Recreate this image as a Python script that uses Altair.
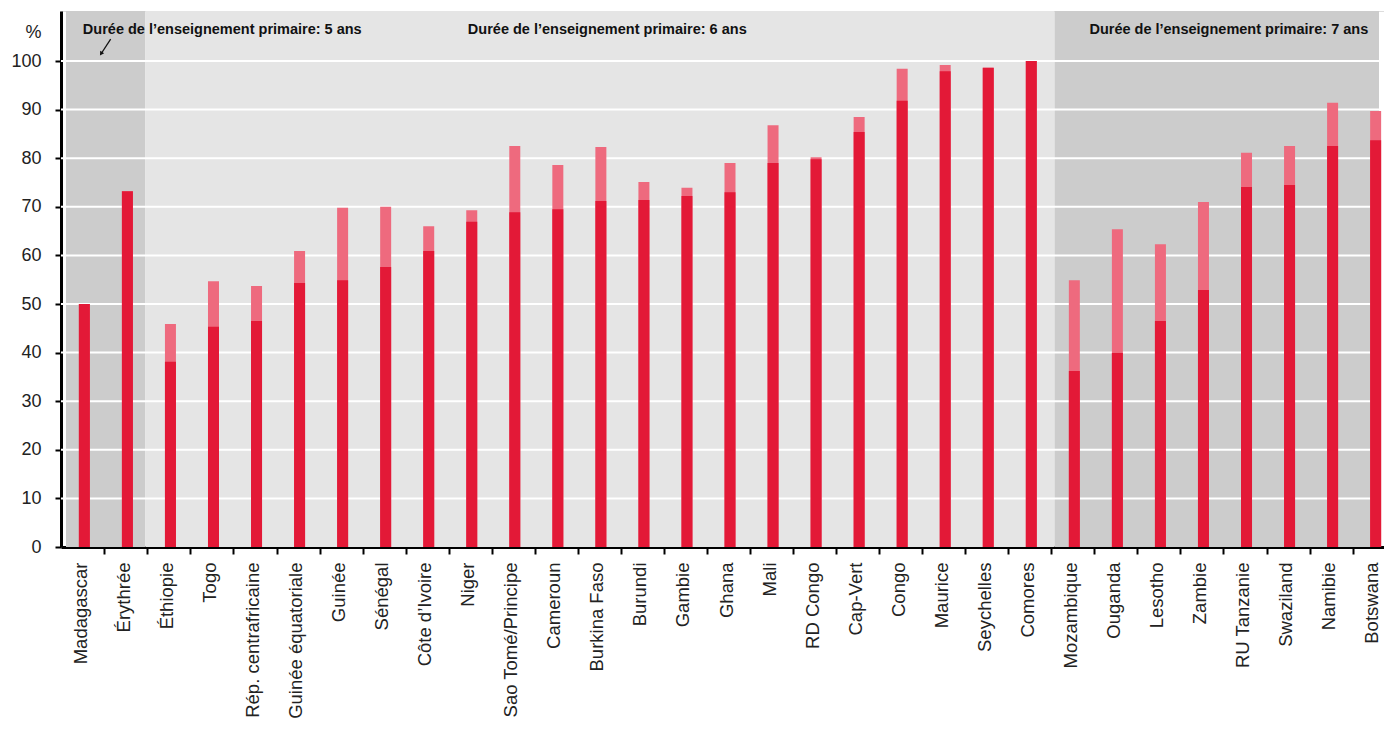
import json
import altair as alt
import pandas as pd

# ---------------- data ----------------
countries = [
    "Madagascar", "Érythrée", "Éthiopie", "Togo", "Rép. centrafricaine",
    "Guinée équatoriale", "Guinée", "Sénégal", "Côte d’Ivoire", "Niger",
    "Sao Tomé/Principe", "Cameroun", "Burkina Faso", "Burundi", "Gambie",
    "Ghana", "Mali", "RD Congo", "Cap-Vert", "Congo", "Maurice", "Seychelles",
    "Comores", "Mozambique", "Ouganda", "Lesotho", "Zambie", "RU Tanzanie",
    "Swaziland", "Namibie", "Botswana",
]
dark_values = [
    50.0, 73.2, 38.1, 45.3, 46.5, 54.3, 54.9, 57.6, 60.9, 66.9,
    68.9, 69.5, 71.2, 71.4, 72.2, 73.0, 79.0, 79.8, 85.4, 91.8,
    97.9, 98.6, 100.0, 36.2, 39.9, 46.5, 52.9, 74.1, 74.5, 82.5, 83.7,
]
total_values = [
    50.0, 73.2, 45.9, 54.7, 53.7, 60.9, 69.8, 70.0, 66.0, 69.3,
    82.5, 78.6, 82.3, 75.1, 73.9, 79.0, 86.8, 80.2, 88.5, 98.4,
    99.2, 98.6, 100.0, 54.9, 65.4, 62.3, 71.0, 81.1, 82.5, 91.4, 89.7,
]

X_DOMAIN = [-0.4266, 30.078]
Y_DOMAIN = [0, 110.29]

# shaded groups (in category-index units)
region_start = [X_DOMAIN[0], 1.418, 22.54]
region_end = [1.418, 22.54, X_DOMAIN[1]]
region_fill = ["#cccccc", "#e5e5e5", "#cccccc"]

header_text = [
    "Durée de l’enseignement primaire: 5 ans",
    "Durée de l’enseignement primaire: 6 ans",
    "Durée de l’enseignement primaire: 7 ans",
]
header_x = [-0.035, 8.91, 23.35]
header_y = [106.4, 106.4, 106.4]

grid_values = [10, 20, 30, 40, 50, 60, 70, 80, 90, 100]
y_ticks = [0, 10, 20, 30, 40, 50, 60, 70, 80, 90, 100]

arrow_x = [0.611]
arrow_x2 = [0.397]
arrow_y = [104.5]
arrow_y2 = [101.6]

FONT = "Liberation Sans"
DARK = "#e31937"
LIGHT = "#ee6a7e"

# ---------------- tables ----------------
bars = pd.DataFrame({
    "i": list(range(len(countries))),
    "pays": countries,
    "dark": dark_values,
    "total": total_values,
})
regions = pd.DataFrame({
    "start": region_start,
    "end": region_end,
    "fill": region_fill,
    "lo": [Y_DOMAIN[0]] * 3,
    "hi": [Y_DOMAIN[1]] * 3,
})
headers = pd.DataFrame({"x": header_x, "y": header_y, "t": header_text})
grid = pd.DataFrame({"v": grid_values})
arrow = pd.DataFrame({"x": arrow_x, "x2": arrow_x2, "y": arrow_y, "y2": arrow_y2})

xscale = alt.Scale(domain=X_DOMAIN, nice=False, zero=False)
yscale = alt.Scale(domain=Y_DOMAIN, nice=False, zero=True)

label_expr = json.dumps(countries, ensure_ascii=False) + "[datum.value]"

x_axis = alt.Axis(
    values=list(range(len(countries))),
    labelExpr=label_expr,
    labelAngle=270,
    labelFontSize=18.5,
    labelColor="#222222",
    labelPadding=8,
    labelOverlap=False,
    labelFlush=False,
    labelBound=False,
    tickOffset=20,
    labelOffset=-24,
    tickSize=7,
    tickWidth=2,
    tickColor="#000000",
    domainColor="#000000",
    domainWidth=3,
    grid=False,
    title=None,
)
y_axis = alt.Axis(
    values=y_ticks,
    labelFontSize=18,
    labelColor="#222222",
    labelPadding=14,
    tickSize=6,
    tickWidth=2,
    tickColor="#000000",
    domainColor="#000000",
    domainWidth=3,
    grid=False,
    title="%",
    titleAngle=0,
    titleX=-28,
    titleY=21,
    titleAlign="center",
    titleBaseline="middle",
    titleFontSize=18,
    titleFontWeight="normal",
    titleColor="#222222",
)


def X(field):
    return alt.X(field, scale=xscale, axis=x_axis)


def Y(field):
    return alt.Y(field, scale=yscale, axis=y_axis)


background = alt.Chart(regions).mark_rect().encode(
    x=X("start:Q"),
    x2="end:Q",
    y=Y("lo:Q"),
    y2="hi:Q",
    color=alt.Color("fill:N", scale=None),
)

gridlines = alt.Chart(grid).mark_rule(color="white", strokeWidth=2).encode(
    y=Y("v:Q"),
)

light_bars = alt.Chart(bars).mark_bar(size=11, color=LIGHT).encode(
    x=X("i:Q"),
    y=Y("total:Q"),
)
dark_bars = alt.Chart(bars).mark_bar(size=11, color=DARK).encode(
    x=X("i:Q"),
    y=Y("dark:Q"),
)

header_marks = alt.Chart(headers).mark_text(
    align="left", baseline="middle", fontSize=14.5, fontWeight="bold",
    font=FONT, color="#111111",
).encode(
    x=X("x:Q"),
    y=Y("y:Q"),
    text="t:N",
)

arrow_line = alt.Chart(arrow).mark_rule(color="#111111", strokeWidth=1.3).encode(
    x=X("x:Q"),
    x2="x2:Q",
    y=Y("y:Q"),
    y2="y2:Q",
)
arrow_head = alt.Chart(arrow).mark_point(
    shape="triangle", angle=213, size=22, filled=True, color="#111111", opacity=1,
).encode(
    x=X("x2:Q"),
    y=Y("y2:Q"),
)

chart = alt.layer(
    background, gridlines, light_bars, dark_bars, header_marks, arrow_line, arrow_head
).properties(
    width=1323,
    height=536,
    autosize=alt.AutoSizeParams(type="none"),
    padding={"left": 53, "top": 3, "right": 0, "bottom": 178},
).configure_view(
    stroke=None,
).configure(
    font=FONT,
)

chart.save("out.html", embed_options={"renderer": "svg", "actions": False})
